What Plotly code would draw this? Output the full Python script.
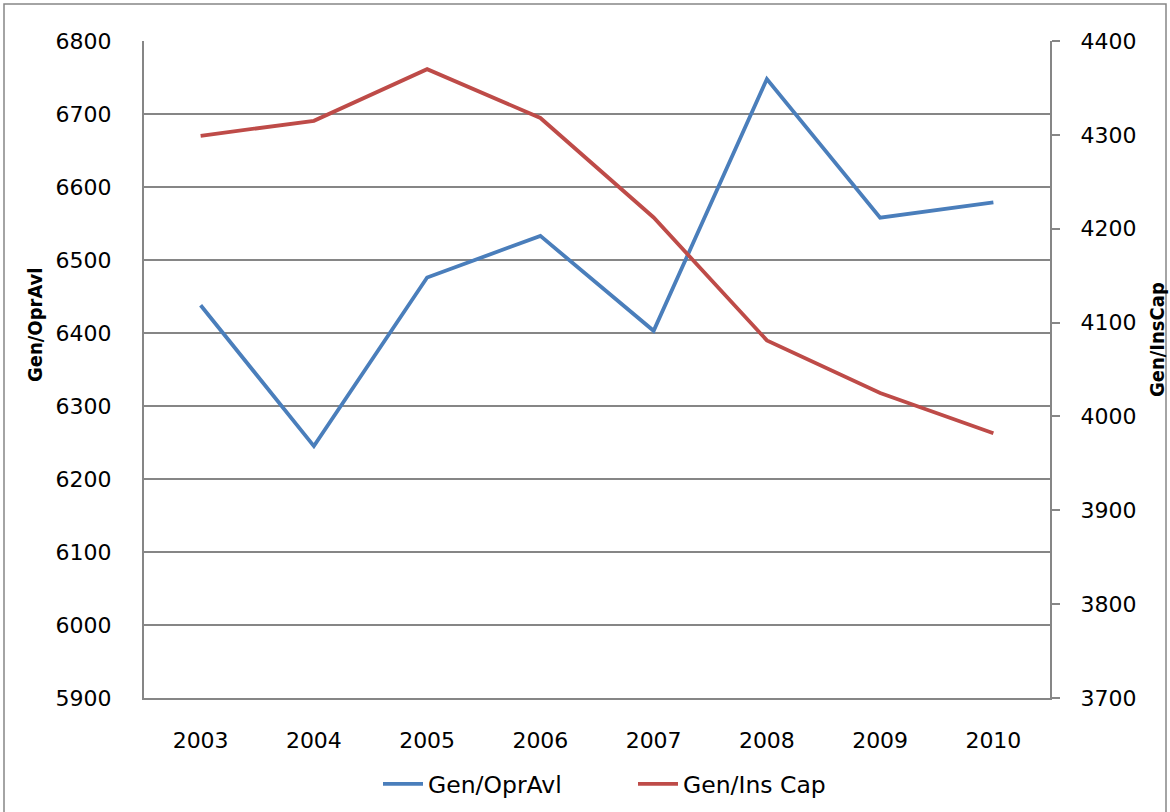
import plotly.graph_objects as go

years = ["2003", "2004", "2005", "2006", "2007", "2008", "2009", "2010"]
gen_opr_avl = [6438, 6245, 6476, 6533, 6403, 6748, 6558, 6579]
gen_ins_cap = [4299, 4315, 4370, 4318, 4212, 4081, 4025, 3982]

left_ticks = list(range(5900, 6801, 100))
right_ticks = list(range(3700, 4401, 100))

tick_font = dict(family="DejaVu Sans", size=22, color="#000000")
title_font = dict(family="DejaVu Sans Condensed, DejaVu Sans", size=20, color="#000000")

fig = go.Figure()
fig.add_trace(go.Scatter(x=years, y=gen_opr_avl, name="Gen/OprAvl", mode="lines",
                         line=dict(color="#4A7EBB", width=3.8), yaxis="y"))
fig.add_trace(go.Scatter(x=years, y=gen_ins_cap, name="Gen/Ins Cap", mode="lines",
                         line=dict(color="#BE4B48", width=3.8), yaxis="y2"))

L, R, T, B = 144, 1050, 41, 698
W, H = 1170, 812
pw, ph = R - L, B - T

def px(x):
    return (x - L) / pw

def py(y):
    return (B - y) / ph

fig.update_layout(
    width=W, height=H,
    margin=dict(l=L, r=W - R, t=T, b=H - B, autoexpand=False),
    paper_bgcolor="white", plot_bgcolor="white",
    showlegend=True,
    legend=dict(orientation="h", x=px(378), xanchor="left", y=py(784), yanchor="middle",
                font=dict(family="DejaVu Sans", size=23.5, color="#000000"),
                itemwidth=40, entrywidth=200, tracegroupgap=0, bgcolor="rgba(0,0,0,0)"),
    xaxis=dict(type="category", range=[-0.5, 7.5], showgrid=False,
               showline=True, linecolor="#868686", linewidth=2,
               ticks="", tickfont=tick_font, ticklabelstandoff=22),
    yaxis=dict(range=[5900, 6800], tickvals=left_ticks, showgrid=True,
               gridcolor="#868686", gridwidth=2, showline=True, linecolor="#868686",
               linewidth=2, ticks="", tickfont=tick_font, ticklabelstandoff=26,
               zeroline=False),
    yaxis2=dict(range=[3700, 4400], tickvals=right_ticks, overlaying="y", side="right",
                showgrid=False, showline=True, linecolor="#868686", linewidth=2,
                ticks="outside", ticklen=8, tickcolor="#868686", tickwidth=2,
                tickfont=tick_font, ticklabelstandoff=16, zeroline=False),
    annotations=[
        dict(text="<b>Gen/OprAvl</b>", x=px(35), y=py(325), xref="paper", yref="paper",
             textangle=-90, showarrow=False, font=title_font, xanchor="center", yanchor="middle"),
        dict(text="<b>Gen/InsCap</b>", x=px(1157), y=py(340), xref="paper", yref="paper",
             textangle=-90, showarrow=False, font=title_font, xanchor="center", yanchor="middle"),
    ],
    shapes=[
        dict(type="rect", xref="paper", yref="paper", x0=px(4), x1=px(1166), y0=py(830), y1=py(4),
             line=dict(color="#868686", width=1.5), fillcolor="rgba(0,0,0,0)", layer="below"),
    ],
)

fig.write_html(
    "out.html",
    config={"displayModeBar": False},
    post_script="document.body.style.margin='0';document.body.style.overflow='hidden';",
)
